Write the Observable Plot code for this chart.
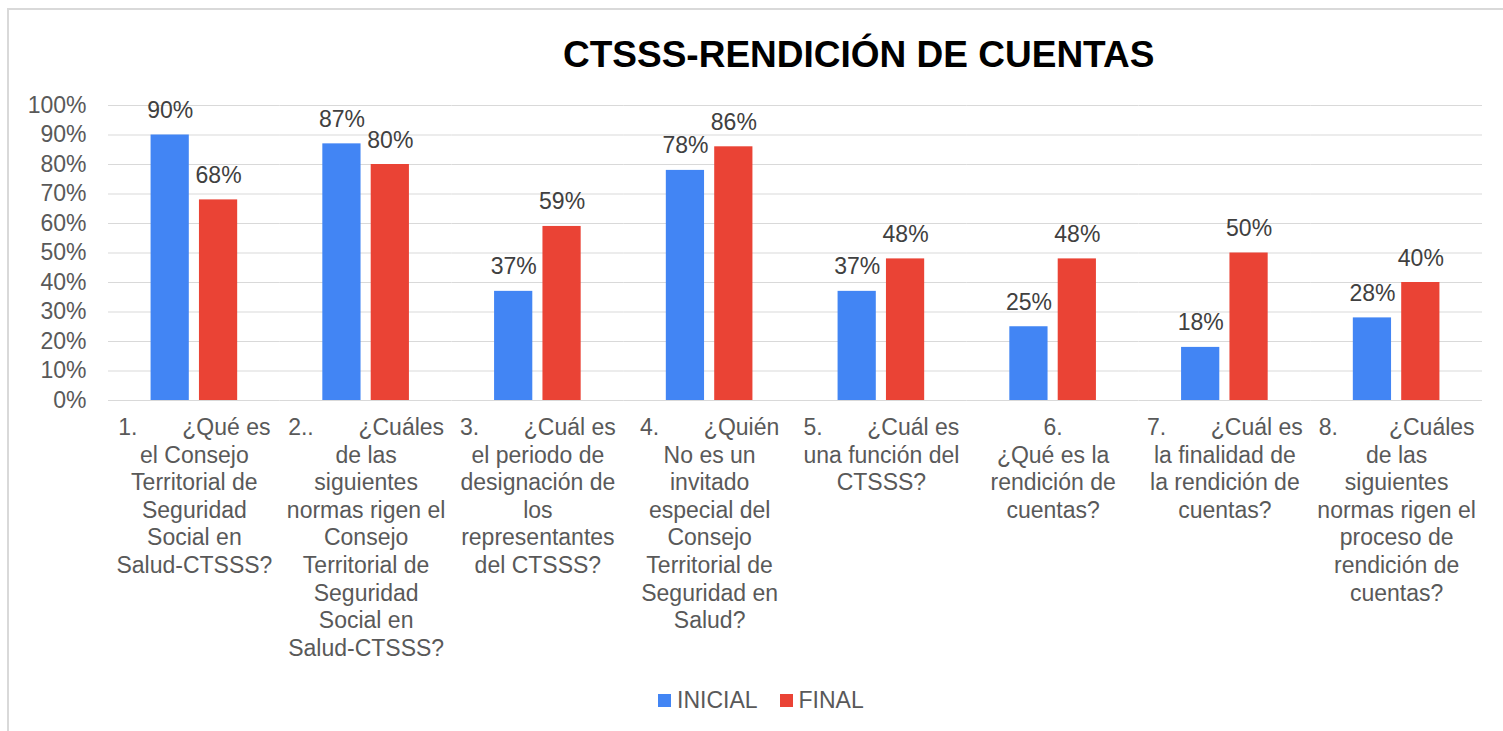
<!DOCTYPE html>
<html>
<head>
<meta charset="utf-8">
<script src="https://cdn.jsdelivr.net/npm/d3@7"></script>
<script src="https://cdn.jsdelivr.net/npm/@observablehq/plot@0.6"></script>
<style>
  html, body { margin: 0; padding: 0; background: #fff; }
  body { width: 1503px; height: 731px; overflow: hidden; font-family: "Liberation Sans", Arial, sans-serif; }
  #frame { position: absolute; left: 7px; top: 8px; width: 1500px; height: 730px;
           border-left: 2px solid #d9d9d9; border-top: 2px solid #d9d9d9; box-sizing: border-box; }
  #title { height: 70px; box-sizing: border-box; padding-top: 26px; padding-left: 554px;
           font-size: 37px; line-height: 37px; font-weight: bold; color: #000; white-space: nowrap; }
  #chart svg { display: block; }
  #legend { display: flex; align-items: center; padding-left: 649px; height: 40px; font-size: 23px; color: #595959; }
  .item { display: flex; align-items: center; margin-right: 22px; }
  .sw { width: 13px; height: 13px; margin-right: 6px; }
</style>
</head>
<body>
<div id="frame">
  <div id="title">CTSSS-RENDICIÓN DE CUENTAS</div>
  <div id="chart"></div>
  <div id="legend"></div>
</div>
<script>
const S = "\u00a0";
const questions = [
  "1." + S.repeat(7) + "¿Qué es\nel Consejo\nTerritorial de\nSeguridad\nSocial en\nSalud-CTSSS?",
  "2.." + S.repeat(7) + "¿Cuáles\nde las\nsiguientes\nnormas rigen el\nConsejo\nTerritorial de\nSeguridad\nSocial en\nSalud-CTSSS?",
  "3." + S.repeat(7) + "¿Cuál es\nel periodo de\ndesignación de\nlos\nrepresentantes\ndel CTSSS?",
  "4." + S.repeat(7) + "¿Quién\nNo es un\ninvitado\nespecial del\nConsejo\nTerritorial de\nSeguridad en\nSalud?",
  "5." + S.repeat(7) + "¿Cuál es\nuna función del\nCTSSS?",
  "6.\n¿Qué es la\nrendición de\ncuentas?",
  "7." + S.repeat(7) + "¿Cuál es\nla finalidad de\nla rendición de\ncuentas?",
  "8." + S.repeat(8) + "¿Cuáles\nde las\nsiguientes\nnormas rigen el\nproceso de\nrendición de\ncuentas?"
];
const series = ["INICIAL", "FINAL"];
const colors = ["#4285F4", "#EA4335"];
const inicial = [0.90, 0.87, 0.37, 0.78, 0.37, 0.25, 0.18, 0.28];
const final   = [0.68, 0.80, 0.59, 0.86, 0.48, 0.48, 0.50, 0.40];
const yTicks = [0, 0.1, 0.2, 0.3, 0.4, 0.5, 0.6, 0.7, 0.8, 0.9, 1.0];

const data = questions.flatMap((q, i) => [
  {q, s: series[0], v: inicial[i]},
  {q, s: series[1], v: final[i]}
]);

const chart = Plot.plot({
  width: 1493,
  height: 600,
  marginLeft: 99,
  marginRight: 20,
  marginTop: 25,
  marginBottom: 280,
  style: {fontFamily: "'Liberation Sans', Arial, sans-serif", fontSize: "23px", background: "transparent", overflow: "visible"},
  fx: {domain: questions, padding: 0, round: false},
  x: {domain: series, paddingInner: 0.21, paddingOuter: 0.88, round: false, axis: null},
  y: {domain: [0, 1]},
  color: {domain: series, range: colors},
  marks: [
    Plot.ruleY(yTicks, {stroke: "#d9d9d9", strokeWidth: 1.2}),
    Plot.axisY({ticks: yTicks, tickFormat: d3.format(".0%"), tickSize: 0, tickPadding: 22, color: "#595959", label: null, fontSize: 23}),
    Plot.axisFx({anchor: "bottom", tickSize: 0, tickPadding: 15, lineHeight: 1.2, color: "#595959", label: null, fontSize: 23}),
    Plot.barY(data, {fx: "q", x: "s", y: "v", fill: "s"}),
    Plot.text(data, {fx: "q", x: "s", y: "v", text: d => Math.round(d.v * 100) + "%", lineAnchor: "bottom", dy: -17, fill: "#404040", fontSize: 23})
  ]
});
document.getElementById("chart").appendChild(chart);

const legend = document.getElementById("legend");
series.forEach((s, i) => {
  const it = document.createElement("div");
  it.className = "item";
  const sw = document.createElement("div");
  sw.className = "sw";
  sw.style.background = colors[i];
  const t = document.createElement("span");
  t.textContent = s;
  it.appendChild(sw);
  it.appendChild(t);
  legend.appendChild(it);
});
</script>
</body>
</html>
